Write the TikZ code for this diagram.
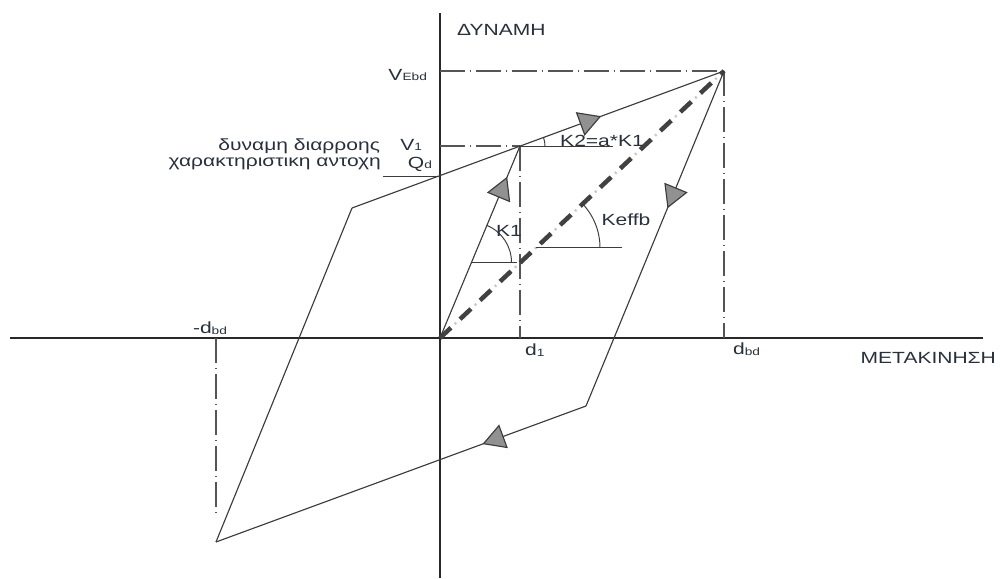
\documentclass[tikz,border=0pt]{standalone}
\usepackage{fontspec}
\setmainfont{Liberation Sans}[FakeStretch=1.3]
\usepackage{xcolor}
\usepackage{tikz}
\usetikzlibrary{arrows.meta, decorations.markings, angles, calc}
\definecolor{caxis}{RGB}{40, 40, 40}
\definecolor{cline}{RGB}{60, 60, 60}
\definecolor{cdash}{RGB}{85, 85, 85}
\definecolor{ceff}{RGB}{65, 65, 65}
\definecolor{cdot}{RGB}{200, 200, 200}
\definecolor{ctip}{RGB}{145, 145, 145}
\definecolor{ctext}{RGB}{40, 48, 60}
\newcommand{\idx}[1]{\raisebox{-0.05ex}{\fontsize{6}{6}\selectfont #1}}

\begin{document}
\begin{tikzpicture}[
  x=0.02cm, y=0.02cm,
  font=\fontsize{9.2}{10}\selectfont,
  lbl/.style={text=ctext, inner sep=1pt},
  axis/.style={line width=0.85pt, color=caxis},
  branch/.style={line width=0.65pt, color=cline, line join=miter},
  guide/.style={line width=0.6pt, color=cdash, dash pattern=on 0.5cm off 0.1cm on 0.02cm off 0.1cm},
  thin/.style={line width=0.55pt, color=cline},
  effline/.style={line width=0.09cm, color=ceff, dash pattern=on 0.3cm off 0.25cm},
  effdot/.style={line width=0.05cm, color=cdot, dash pattern=on 0.04cm off 0.51cm, dash phase=0.145cm},
  flowtip/.style={postaction={decorate}, decoration={markings,
    mark=at position #1 with {\arrow{Triangle[length=0.45cm, width=0.5cm, fill=ctip]}}}},
]
\useasboundingbox (0,0) rectangle (1000,578);

% ---- Points of the loop ----
\coordinate (O) at (440,240);
\coordinate (yield) at (520,432);
\coordinate (peak) at (724,507);
\coordinate (ul) at (352,370);
\coordinate (bl) at (216,36);
\coordinate (br) at (586,172);

% ---- Axes ----
\coordinate (xl) at (10,240);
\coordinate (xr) at (983,240);
\coordinate (yt) at (440,565);
\coordinate (yb) at (440,0);
\draw[axis] (xl) -- (xr);
\draw[axis] (yb) -- (yt);

% ---- Guide lines ----
\coordinate (vebd) at (440,507);
\coordinate (v1) at (440,432);
\coordinate (d1) at (520,240);
\coordinate (dbd) at (724,240);
\coordinate (mdbd) at (216,240);
\coordinate (mdbdlow) at (216,66);
\draw[guide] (vebd) -- (peak);
\draw[guide] (v1) -- (yield);
\draw[guide] (yield) -- (d1);
\draw[guide] (peak) -- (dbd);
\draw[guide] (mdbd) -- (mdbdlow);

% Qd mark
\coordinate (qd) at (440,402);
\coordinate (qdl) at (383,402);
\draw[thin] (qdl) -- (qd);

% ---- Effective stiffness ----
\draw[effdot] (O) -- (peak);
\draw[effline] (O) -- (peak);

% ---- Hysteresis loop ----
\draw[branch, flowtip=0.84] (O) -- (yield);
\draw[branch, flowtip=0.67] (ul) -- (peak);
\draw[branch, flowtip=0.41] (peak) -- (br);
\draw[branch, flowtip=0.28] (br) -- (bl);
\draw[branch] (bl) -- (ul);

% ---- Stiffness angles ----
\coordinate (k2h) at (613,432);
\draw[thin] (yield) -- (k2h);
\pic[draw=cline, thin, angle radius=0.5cm] {angle=k2h--yield--peak};

\coordinate (k1c) at (471.5,315.7);
\coordinate (k1h) at (516.7,315.7);
\draw[thin] (k1c) -- (k1h);
\pic[draw=cline, thin, angle radius=0.8cm] {angle=k1h--k1c--yield};

\coordinate (kec) at (536,330.3);
\coordinate (keh) at (621.7,330.3);
\draw[thin] (kec) -- (keh);
\pic[draw=cline, thin, angle radius=1.28cm] {angle=keh--kec--peak};

% ---- Labels ----
\node[lbl, anchor=west] (force) at (455,548) {ΔΥΝΑΜΗ};
\node[lbl, anchor=east] (disp) at (998,220) {ΜΕΤΑΚΙΝΗΣΗ};
\node[lbl, anchor=east] (lvebd) at (429,503) {V\idx{Ebd}};
\node[lbl, anchor=east] (lv1) at (424,433) {V\idx{1}};
\node[lbl, anchor=east] (lqd) at (434,414) {Q\idx{d}};
\node[lbl, anchor=east] (lyield) at (382,432) {δυναμη διαρροης};
\node[lbl, anchor=east] (lchar) at (383,414) {χαρακτηριστικη αντοχη};
\node[lbl, anchor=west] (ld1) at (523,228) {d\idx{1}};
\node[lbl, anchor=west] (ldbd) at (731,229) {d\idx{bd}};
\node[lbl] (lmdbd) at (210,250) {-d\idx{bd}};
\node[lbl] (lk1) at (509,347) {K1};
\node[lbl] (lkeff) at (626,358) {Keffb};
\node[lbl] (lk2) at (602,437) {K2=a*K1};

\end{tikzpicture}
\end{document}
